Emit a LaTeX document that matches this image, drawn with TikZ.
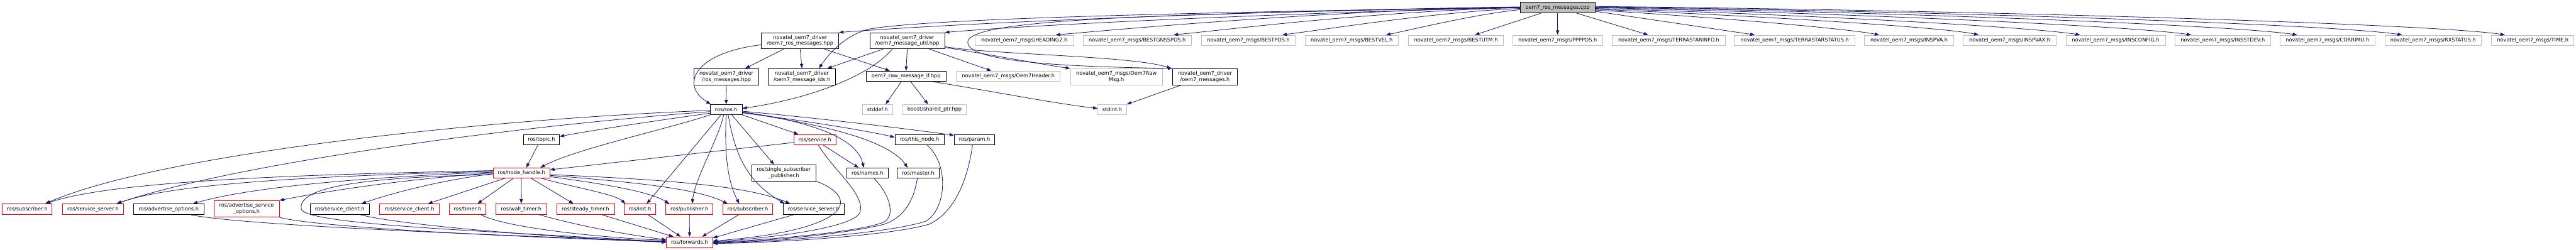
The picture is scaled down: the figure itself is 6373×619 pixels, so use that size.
\documentclass[tikz,border=0pt]{standalone}
\usepackage{fontspec}
\usetikzlibrary{arrows.meta}
\newfontfamily\nf{DejaVu Sans}
\definecolor{edgec}{HTML}{191970}
\definecolor{lgray}{HTML}{BFBFBF}
\definecolor{rbord}{HTML}{FF0000}
\begin{document}
\begin{tikzpicture}[x=1pt,y=-1pt,
  box/.style={draw, rectangle, line width=1.3pt, inner xsep=2pt, inner ysep=0pt, align=center, font=\nf\fontsize{12.7}{15}\selectfont, text=black},
  bk/.style={box, draw=black},
  rd/.style={box, draw=rbord},
  gy/.style={box, draw=lgray},
  dep/.style={draw=edgec, line width=1.25pt, -{Triangle[length=11pt,width=8pt]}}]
\path[fill=white] (0,0) rectangle (6373,619);
\useasboundingbox (0,0) rectangle (6373,619);
% ---------- nodes ----------
\node[bk, fill=lgray, minimum width=185pt, minimum height=26pt] (root) at (3853.5,19) {oem7\_ros\_messages.cpp};
\node[gy, minimum width=244pt, minimum height=26pt] (heading2) at (2534,100) {novatel\_oem7\_msgs/HEADING2.h};
\node[gy, minimum width=267pt, minimum height=26pt] (bestgnsspos) at (2813.5,100) {novatel\_oem7\_msgs/BESTGNSSPOS.h};
\node[gy, minimum width=231pt, minimum height=26pt] (bestpos) at (3088.5,100) {novatel\_oem7\_msgs/BESTPOS.h};
\node[gy, minimum width=230pt, minimum height=26pt] (bestvel) at (3344,100) {novatel\_oem7\_msgs/BESTVEL.h};
\node[gy, minimum width=234pt, minimum height=26pt] (bestutm) at (3602,100) {novatel\_oem7\_msgs/BESTUTM.h};
\node[gy, minimum width=223pt, minimum height=26pt] (ppppos) at (3853.5,100) {novatel\_oem7\_msgs/PPPPOS.h};
\node[gy, minimum width=279pt, minimum height=26pt] (tsinfo) at (4128.5,100) {novatel\_oem7\_msgs/TERRASTARINFO.h};
\node[gy, minimum width=298pt, minimum height=26pt] (tsstatus) at (4440,100) {novatel\_oem7\_msgs/TERRASTARSTATUS.h};
\node[gy, minimum width=220pt, minimum height=26pt] (inspva) at (4723,100) {novatel\_oem7\_msgs/INSPVA.h};
\node[gy, minimum width=230pt, minimum height=26pt] (inspvax) at (4972,100) {novatel\_oem7\_msgs/INSPVAX.h};
\node[gy, minimum width=246pt, minimum height=26pt] (insconfig) at (5234,100) {novatel\_oem7\_msgs/INSCONFIG.h};
\node[gy, minimum width=236pt, minimum height=26pt] (insstdev) at (5499,100) {novatel\_oem7\_msgs/INSSTDEV.h};
\node[gy, minimum width=234pt, minimum height=26pt] (corrimu) at (5758,100) {novatel\_oem7\_msgs/CORRIMU.h};
\node[gy, minimum width=239pt, minimum height=26pt] (rxstatus) at (6019.5,100) {novatel\_oem7\_msgs/RXSTATUS.h};
\node[gy, minimum width=204pt, minimum height=26pt] (time) at (6266,100) {novatel\_oem7\_msgs/TIME.h};
\node[bk, minimum width=191pt, minimum height=40pt] (A) at (1979.5,101) {novatel\_oem7\_driver\\/oem7\_ros\_messages.hpp};
\node[bk, minimum width=185pt, minimum height=40pt] (B) at (2244.5,101) {novatel\_oem7\_driver\\/oem7\_message\_util.hpp};
\node[bk, minimum width=160pt, minimum height=40pt] (C) at (1797,190) {novatel\_oem7\_driver\\/ros\_messages.hpp};
\node[bk, minimum width=166pt, minimum height=40pt] (D) at (1984,190) {novatel\_oem7\_driver\\/oem7\_message\_ids.h};
\node[bk, minimum width=197pt, minimum height=26pt] (E) at (2241.5,189) {oem7\_raw\_message\_if.hpp};
\node[gy, minimum width=257pt, minimum height=26pt] (hdr) at (2494.5,189) {novatel\_oem7\_msgs/Oem7Header.h};
\node[gy, minimum width=228pt, minimum height=40pt] (rawmsg) at (2762,190) {novatel\_oem7\_msgs/Oem7Raw\\Msg.h};
\node[bk, minimum width=160pt, minimum height=40pt] (msgsh) at (2981,190) {novatel\_oem7\_driver\\/oem7\_messages.h};
\node[bk, minimum width=79pt, minimum height=25pt] (ros) at (1796.5,271.5) {ros/ros.h};
\node[gy, minimum width=74pt, minimum height=25pt] (stddef) at (2171,271.5) {stddef.h};
\node[gy, minimum width=156pt, minimum height=25pt] (boost) at (2312,271.5) {boost/shared\_ptr.hpp};
\node[gy, minimum width=71pt, minimum height=25pt] (stdint) at (2751.5,271.5) {stdint.h};
\node[bk, minimum width=89pt, minimum height=26pt] (topic) at (1339.5,346) {ros/topic.h};
\node[rd, minimum width=104pt, minimum height=26pt] (service) at (2016,346) {ros/service.h};
\node[bk, minimum width=122pt, minimum height=26pt] (thisnode) at (2275,346) {ros/this\_node.h};
\node[bk, minimum width=100pt, minimum height=26pt] (param) at (2411,346) {ros/param.h};
\node[rd, minimum width=140pt, minimum height=25pt] (nh) at (1290,428.5) {ros/node\_handle.h};
\node[bk, minimum width=158pt, minimum height=40pt] (ssp) at (1939,428) {ros/single\_subscriber\\\_publisher.h};
\node[bk, minimum width=102pt, minimum height=25pt] (names) at (2146,428.5) {ros/names.h};
\node[bk, minimum width=103pt, minimum height=25pt] (master) at (2271.5,428.5) {ros/master.h};
\node[rd, minimum width=124pt, minimum height=26pt] (sub1) at (67,518) {ros/subscriber.h};
\node[rd, minimum width=152pt, minimum height=26pt] (ss1) at (230,518) {ros/service\_server.h};
\node[bk, minimum width=175pt, minimum height=26pt] (ao) at (417.5,518) {ros/advertise\_options.h};
\node[rd, minimum width=162pt, minimum height=41pt] (aso) at (610,517.5) {ros/advertise\_service\\\_options.h};
\node[bk, minimum width=147pt, minimum height=26pt] (sc1) at (840.5,518) {ros/service\_client.h};
\node[rd, minimum width=148pt, minimum height=26pt] (sc2) at (1013,518) {ros/service\_client.h};
\node[rd, minimum width=91pt, minimum height=26pt] (timer) at (1156.5,518) {ros/timer.h};
\node[rd, minimum width=127pt, minimum height=26pt] (wtimer) at (1289.5,518) {ros/wall\_timer.h};
\node[rd, minimum width=143pt, minimum height=26pt] (stimer) at (1448.5,518) {ros/steady\_timer.h};
\node[rd, minimum width=78pt, minimum height=26pt] (init) at (1583,518) {ros/init.h};
\node[rd, minimum width=117pt, minimum height=26pt] (pub) at (1705.5,518) {ros/publisher.h};
\node[rd, minimum width=124pt, minimum height=26pt] (sub2) at (1850,518) {ros/subscriber.h};
\node[bk, minimum width=151pt, minimum height=26pt] (ss2) at (2012.5,518) {ros/service\_server.h};
\node[rd, minimum width=114pt, minimum height=26pt] (fwd) at (1706,600) {ros/forwards.h};
% ---------- root edges ----------
\draw[dep] ([yshift=2pt]root.west) .. controls (3200,25) and (2450,52) .. (A.north east);
\draw[dep] (root.west) .. controls (3300,28) and (2600,58) .. (B.north east);
\draw[dep] ([yshift=1pt]root.west) .. controls (3000,30) and (2300,45) .. (2150,72) .. controls (2100,85) and (2060,120) .. ([xshift=42pt]D.north);
\draw[dep] ([yshift=1pt]root.west) .. controls (2800,35) and (2420,50) .. (2395,100) .. controls (2380,150) and (2600,165) .. (msgsh.north west);
\draw[dep] ([yshift=1pt]root.west) .. controls (3300,25) and (2800,70) .. ([xshift=78pt]heading2.north);
\draw[dep] (root.west) .. controls (3400,28) and (3050,72) .. ([xshift=90pt]bestgnsspos.north);
\draw[dep] ([yshift=-2pt]root.west) .. controls (3550,30) and (3300,70) .. ([xshift=84pt]bestpos.north);
\draw[dep] ([yshift=-5pt]root.west) .. controls (3650,35) and (3500,72) .. ([xshift=85pt]bestvel.north);
\draw[dep] ([xshift=-41pt]root.south) -- ([xshift=47pt]bestutm.north);
\draw[dep] (root.south) -- (ppppos.north);
\draw[dep] ([xshift=47pt]root.south) -- ([xshift=-51pt]tsinfo.north);
\draw[dep] ([yshift=-9pt]root.east) -- ([xshift=-99pt]tsstatus.north);
\draw[dep] ([yshift=-6pt]root.east) .. controls (4200,40) and (4550,68) .. ([xshift=-74pt]inspva.north);
\draw[dep] ([yshift=-4pt]root.east) .. controls (4300,37) and (4800,66) .. ([xshift=-77pt]inspvax.north);
\draw[dep] ([yshift=-2pt]root.east) .. controls (4400,34) and (5000,64) .. ([xshift=-88pt]insconfig.north);
\draw[dep] (root.east) .. controls (4500,31) and (5250,62) .. ([xshift=-78pt]insstdev.north);
\draw[dep] ([yshift=1pt]root.east) .. controls (4600,28) and (5500,60) .. ([xshift=-75pt]corrimu.north);
\draw[dep] ([yshift=2pt]root.east) .. controls (4700,26) and (5750,58) .. ([xshift=-77pt]rxstatus.north);
\draw[dep] ([yshift=3pt]root.east) .. controls (4800,24) and (6000,57) .. ([xshift=-69pt]time.north);
% ---------- driver headers ----------
\draw[dep] ([yshift=4pt]B.south east) .. controls (2450,135) and (2580,160) .. (rawmsg.north west);
\draw[dep] ([yshift=6pt]B.south east) .. controls (2450,135) and (2800,138) .. ([xshift=-3pt]msgsh.north west);
\draw[dep] ([xshift=55pt]B.south) -- ([xshift=-42pt]hdr.north);
\draw[dep] (B.south) -- (E.north);
\draw[dep] ([xshift=-60pt]B.south) -- ([xshift=63pt]D.north);
\draw[dep] ([xshift=-37pt]B.south) .. controls (2150,190) and (2000,245) .. ([yshift=3pt]ros.east);
\draw[dep] ([xshift=-41pt]A.south) -- ([xshift=47pt]C.north);
\draw[dep] (A.south) -- (D.north);
\draw[dep] ([xshift=60pt]A.south) -- ([xshift=-40pt]E.north);
\draw[dep] ([yshift=-10pt]A.west) .. controls (1720,130) and (1680,210) .. ([xshift=-38pt]ros.north);
\draw[dep] (C.south) -- (ros.north);
\draw[dep] ([xshift=-12pt]E.south) -- ([xshift=20pt]stddef.north);
\draw[dep] ([xshift=12pt]E.south) -- ([xshift=-16pt]boost.north);
\draw[dep] ([xshift=68pt]E.south) .. controls (2450,225) and (2600,255) .. ([yshift=3pt]stdint.west);
\draw[dep] ([xshift=-58pt]msgsh.south) -- (stdint.north east);
% ---------- ros.h ----------
\draw[dep] ([yshift=-9pt]ros.west) .. controls (1650,295) and (1480,320) .. ([yshift=8pt]topic.east);
\draw[dep] (ros.south west) .. controls (1650,320) and (1420,370) .. ([xshift=47pt]nh.north);
\draw[dep] ([yshift=-2pt]ros.west) .. controls (1200,295) and (400,380) .. ([xshift=45pt]sub1.north);
\draw[dep] ([yshift=-5pt]ros.west) .. controls (1300,310) and (600,400) .. ([xshift=58pt]ss1.north);
\draw[dep] ([xshift=-13pt]ros.south) -- ([xshift=17pt]init.north);
\draw[dep] ([xshift=-6pt]ros.south) .. controls (1775,350) and (1720,440) .. ([xshift=7pt]pub.north);
\draw[dep] (ros.south) .. controls (1792,380) and (1800,450) .. ([xshift=-21pt]sub2.north);
\draw[dep] ([xshift=5pt]ros.south) .. controls (1820,390) and (1850,450) .. ([xshift=-72pt]ss2.north);
\draw[dep] ([xshift=14pt]ros.south) -- ([xshift=-24pt]ssp.north);
\draw[dep] (ros.south east) -- ([xshift=-41pt]service.north);
\draw[dep] ([yshift=-6pt]ros.east) .. controls (2000,300) and (2120,340) .. ([xshift=-9pt]names.north);
\draw[dep] ([yshift=-7pt]ros.east) .. controls (2050,310) and (2200,350) .. ([xshift=-26pt]master.north);
\draw[dep] ([yshift=-8pt]ros.east) .. controls (2000,300) and (2150,325) .. ([yshift=6pt]thisnode.west);
\draw[dep] ([yshift=-4pt]ros.east) .. controls (2050,295) and (2250,320) .. ([yshift=11pt]param.west);
\draw[dep] ([yshift=-7pt]service.west) -- ([yshift=8pt]nh.east);
\draw[dep] ([xshift=21pt]service.south) -- ([xshift=-22pt]names.north);
\draw[dep] ([xshift=-9pt]topic.south) -- ([xshift=12pt]nh.north);
% ---------- node_handle.h ----------
\draw[dep] ([yshift=6pt]nh.west) .. controls (900,430) and (300,440) .. ([xshift=47pt]sub1.north);
\draw[dep] ([yshift=4pt]nh.west) .. controls (950,432) and (450,445) .. ([xshift=60pt]ss1.north);
\draw[dep] ([yshift=2pt]nh.west) .. controls (1000,435) and (650,455) .. ([xshift=60pt]ao.north);
\draw[dep] (nh.west) .. controls (1050,440) and (850,465) .. (aso.north east);
\draw[dep] ([yshift=-2pt]nh.west) .. controls (1100,445) and (980,475) .. ([xshift=54pt]sc1.north);
\draw[dep] ([yshift=-4pt]nh.west) .. controls (850,440) and (740,470) .. (745,517) .. controls (750,560) and (1300,575) .. (fwd.west);
\draw[dep] ([xshift=-41pt]nh.south) -- ([xshift=46pt]sc2.north);
\draw[dep] ([xshift=-20pt]nh.south) -- ([xshift=25pt]timer.north);
\draw[dep] (nh.south) -- (wtimer.north);
\draw[dep] ([xshift=24pt]nh.south) -- ([xshift=-30pt]stimer.north);
\draw[dep] ([xshift=50pt]nh.south) .. controls (1400,460) and (1520,480) .. ([xshift=-36pt]init.north);
\draw[dep] ([yshift=-9pt]nh.east) .. controls (1450,450) and (1600,470) .. ([xshift=-50pt]pub.north);
\draw[dep] ([yshift=-6pt]nh.east) .. controls (1550,450) and (1720,465) .. ([xshift=-50pt]sub2.north);
\draw[dep] ([yshift=-4pt]nh.east) .. controls (1650,445) and (1850,460) .. ([xshift=-58pt]ss2.north);
% ---------- to forwards.h ----------
\draw[dep] ([xshift=53pt]ao.south) .. controls (600,560) and (1300,585) .. ([yshift=2pt]fwd.west);
\draw[dep] (aso.south east) .. controls (800,565) and (1300,588) .. ([yshift=1pt]fwd.west);
\draw[dep] ([xshift=50pt]sc1.south) .. controls (1000,560) and (1400,590) .. (fwd.west);
\draw[dep] ([xshift=33pt]timer.south) .. controls (1250,565) and (1500,590) .. ([yshift=5pt]fwd.west);
\draw[dep] ([xshift=44pt]wtimer.south) .. controls (1450,565) and (1580,585) .. ([yshift=6pt]fwd.west);
\draw[dep] ([xshift=40pt]stimer.south) -- ([xshift=-40pt]fwd.north);
\draw[dep] ([xshift=20pt]init.south) -- ([xshift=-22pt]fwd.north);
\draw[dep] (pub.south) -- (fwd.north);
\draw[dep] ([xshift=-22pt]sub2.south) -- ([xshift=31pt]fwd.north);
\draw[dep] ([xshift=-48pt]ss2.south) -- ([yshift=-3pt]fwd.north east);
\draw[dep] (ssp.south east) .. controls (2130,490) and (2110,570) .. ([yshift=3pt]fwd.east);
\draw[dep] ([xshift=9pt]service.south) .. controls (2060,420) and (2140,480) .. (2128,525) .. controls (2115,565) and (1900,590) .. ([yshift=1pt]fwd.east);
\draw[dep] ([xshift=16pt]names.south) .. controls (2200,480) and (2215,530) .. (2190,548) .. controls (2150,572) and (1900,595) .. (fwd.east);
\draw[dep] ([xshift=-2pt]master.south) .. controls (2260,500) and (2235,540) .. (2185,556) .. controls (2100,578) and (1900,598) .. ([yshift=-1pt]fwd.east);
\draw[dep] ([xshift=19pt]thisnode.south) .. controls (2350,410) and (2340,520) .. (2290,548) .. controls (2200,578) and (1900,600) .. ([yshift=-2pt]fwd.east);
\draw[dep] ([xshift=-5pt]param.south) .. controls (2390,470) and (2350,530) .. (2300,555) .. controls (2200,585) and (1900,602) .. ([yshift=-3pt]fwd.east);
\end{tikzpicture}
\end{document}
